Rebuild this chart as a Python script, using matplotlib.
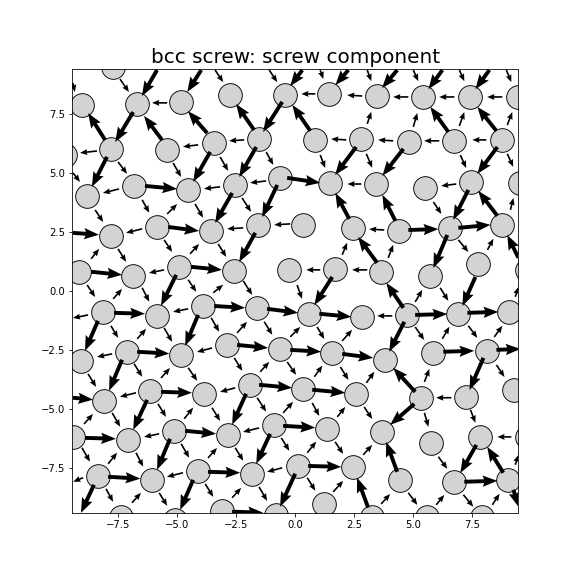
import matplotlib
matplotlib.use("Agg")
import matplotlib.pyplot as plt

atom_x = [-7.71,
 -9.03,-6.69,-4.83,-2.75,-0.42,1.44,3.47,5.42,7.42,9.45,
 -9.75,-7.80,-5.42,-3.43,-1.53,0.85,2.80,4.83,6.74,8.77,
 -8.81,-6.82,-4.53,-2.54,-0.64,1.48,3.43,5.51,7.46,9.53,
 -7.80,-5.85,-3.56,-1.57,0.34,2.46,4.41,6.57,8.77,
 -9.15,-6.86,-4.92,-2.58,-0.25,1.69,3.64,5.72,7.75,9.83,
 -8.14,-5.85,-3.90,-1.61,0.59,2.84,4.75,6.91,9.07,
 -9.07,-7.12,-4.83,-2.88,-0.64,1.57,3.81,5.85,8.14,
 -8.09,-6.14,-3.86,-1.91,0.34,2.58,5.34,7.25,9.28,
 -9.41,-7.08,-5.13,-2.84,-0.89,1.36,3.69,5.76,7.84,9.83,
 -8.35,-6.06,-4.11,-1.82,0.13,2.46,4.45,6.74,9.03,
 -7.37,-5.08,-3.09,-0.81,1.23,3.26,5.59,7.92]
atom_y = [9.49,
 7.88,7.92,8.01,8.31,8.31,8.35,8.26,8.22,8.22,8.22,
 5.76,6.02,5.97,6.27,6.44,6.40,6.44,6.31,6.36,6.40,
 4.03,4.45,4.28,4.49,4.79,4.58,4.53,4.36,4.62,4.58,
 2.33,2.71,2.54,2.80,2.80,2.67,2.54,2.67,2.80,
 0.81,0.64,1.02,0.85,0.89,0.93,0.81,0.64,1.14,0.89,
 -0.89,-1.06,-0.64,-0.72,-0.97,-1.10,-1.02,-0.97,-0.89,
 -2.97,-2.58,-2.71,-2.29,-2.46,-2.63,-2.92,-2.63,-2.54,
 -4.66,-4.24,-4.36,-3.98,-4.15,-4.36,-4.53,-4.49,-4.19,
 -6.19,-6.31,-5.93,-6.10,-5.68,-5.85,-5.97,-6.44,-6.19,-6.19,
 -7.84,-8.01,-7.63,-7.75,-7.42,-7.46,-8.01,-8.09,-8.01,
 -9.58,-9.70,-9.32,-9.49,-9.03,-9.58,-9.58,-9.58]

strong_x = [-5.85,-3.98,0.30,-6.86,-8.05,-5.64,-3.73,-1.74,-0.55,-7.97,-3.60,-1.65,-6.36,-2.67,-0.76,-0.34,-5.38,-9.41,-1.69,-8.64,-4.41,-5.04,
 2.25,4.32,6.23,8.22,0.64,6.48,8.52,2.58,4.58,8.56,7.33,8.56,2.29,4.24,4.79,6.91,6.44,3.47,7.63,4.58,9.45,1.57,
 -8.35,-7.67,-3.43,-1.19,-4.11,-7.33,-6.69,-2.46,-0.21,-9.41,-5.68,-6.27,-1.53,-2.08,-8.90,-4.66,-0.51,-5.30,-1.06,-7.92,-3.69,-8.52,-4.32,0.00,-2.67,
 1.02,5.08,7.29,4.62,1.99,6.27,8.52,7.97,0.72,5.08,5.04,4.32,0.55,3.09,7.67,8.81,7.16,9.24]
strong_y = [9.36,9.36,9.36,7.58,6.40,6.40,6.69,6.82,8.01,5.68,5.89,6.10,4.45,4.15,4.49,4.79,2.71,2.46,2.46,0.81,1.02,0.68,
 9.36,9.36,9.36,9.36,6.78,6.74,6.78,6.10,6.02,6.10,4.28,3.18,3.05,2.97,2.58,2.67,2.37,1.19,0.59,-0.72,1.40,0.59,
 -1.27,-0.93,-0.64,-0.76,-1.02,-2.92,-2.58,-2.29,-2.50,-4.53,-4.28,-4.62,-3.98,-4.36,-6.23,-5.93,-5.72,-6.27,-6.06,-7.88,-7.67,-8.22,-8.01,-7.75,-9.36,
 -0.97,-1.02,-0.93,-1.31,-2.67,-2.58,-2.50,-2.84,-4.19,-4.28,-4.79,-7.67,-7.42,-9.19,-6.53,-7.71,-8.09,-8.43]
strong_u = [-0.64,-0.59,-0.51,-0.76,-0.72,-0.76,-0.81,-0.76,-0.81,-0.64,-0.72,-0.72,1.36,-0.72,-0.64,1.40,1.31,1.10,-0.68,1.31,1.31,-0.64,
 -0.55,-0.64,-0.59,-0.59,-0.76,-0.76,-0.81,-0.89,-0.89,-0.85,-0.64,-0.81,-0.59,-0.55,1.27,1.36,-0.59,-0.81,-0.55,-0.72,-0.47,-0.76,
 -0.55,1.31,1.31,1.31,-0.55,-0.55,1.36,1.31,1.31,0.85,1.31,-0.59,1.40,-0.59,1.31,1.31,1.36,-0.55,-0.59,1.36,1.36,-0.55,-0.55,-0.64,1.31,
 1.36,1.36,1.31,-0.64,1.31,1.31,1.02,-0.59,1.40,-0.93,-1.02,-0.47,1.40,-0.47,-0.68,-0.68,1.40,0.21]
strong_v = [-1.10,-0.93,-0.68,-1.27,1.14,1.02,0.93,1.10,-1.27,-1.27,-1.27,-1.27,-0.13,-1.27,-1.36,-0.21,-0.17,-0.08,-1.23,-0.13,-0.13,-1.31,
 -0.64,-0.76,-0.81,-0.81,1.10,1.06,1.02,-1.19,-1.14,-1.14,-1.27,1.06,1.10,1.10,0.04,0.13,-1.40,1.10,-1.23,1.06,0.97,-1.19,
 -1.27,-0.04,-0.08,-0.17,-1.31,-1.31,-0.08,-0.13,-0.08,-0.08,-0.04,-1.27,-0.13,-1.31,-0.04,-0.13,-0.08,-1.31,-1.27,-0.08,-0.04,-1.19,-1.27,-1.40,-0.04,
 -0.13,0.04,0.04,-1.27,-0.17,0.04,0.04,-1.36,-0.13,1.02,-0.89,1.27,-0.04,1.27,-1.19,1.10,0.04,-0.72]

weak_x = [-7.42,-3.39,-1.10,-9.41,-5.42,-8.39,-4.11,-2.16,-7.50,-5.17,-3.18,-1.23,-9.41,-7.46,-3.18,-1.23,-6.48,-8.47,-4.24,-2.25,-5.42,-6.48,-2.20,-0.21,-5.55,-8.64,-7.50,-4.45,-3.26,-5.55,
 1.06,3.05,5.00,6.95,8.94,0.85,2.84,4.79,6.74,8.77,3.05,5.00,6.95,8.98,2.16,4.15,6.10,8.09,1.06,3.01,6.99,8.98,2.80,6.82,5.85,3.77,9.11,1.99,3.94,6.91,8.14,1.06,3.05,
 -8.77,-4.53,-7.71,-8.81,-6.48,-3.47,-4.53,-2.20,-7.80,-6.69,-5.55,-3.56,-2.46,-1.31,-0.21,-7.75,-3.52,-8.77,-6.82,-5.68,-4.53,-2.58,-1.48,-0.34,-6.74,-2.54,-8.94,-7.75,-5.81,-4.70,-3.52,-1.61,-0.51,-5.76,-1.53,-9.03,-7.92,-6.74,-4.83,-3.69,-2.54,-0.59,-8.98,-4.75,-0.55,-8.01,-6.91,-5.76,-3.81,-2.67,-1.53,
 0.08,5.08,6.14,4.11,9.32,0.93,1.99,5.08,6.23,7.33,8.43,0.81,1.91,3.01,5.47,8.52,0.72,1.78,2.92,5.47,6.61,7.42,9.15,0.51,1.69,2.88,6.06,9.32,0.51,1.61,3.64,4.79,5.97,7.12,8.35]
weak_y = [8.98,9.36,9.36,8.81,7.97,5.93,6.19,6.40,5.47,5.42,5.68,5.89,5.00,4.32,4.41,4.66,3.86,3.43,3.69,3.94,3.26,2.63,2.67,2.84,2.16,1.36,1.78,1.57,1.99,0.89,
 9.36,9.36,9.36,9.36,9.36,8.35,8.26,8.22,8.22,8.22,7.08,6.95,6.99,7.03,6.40,6.36,6.36,6.40,5.76,5.81,5.76,5.81,4.53,4.53,3.77,2.58,3.43,1.53,1.40,2.16,1.74,0.89,0.89,
 -1.02,-0.76,-0.34,0.25,0.13,-0.08,0.47,0.42,-1.48,-2.03,-1.57,-1.14,-1.78,-1.31,-1.95,-2.67,-2.42,-3.52,-3.09,-3.69,-3.26,-2.84,-3.43,-3.01,-4.32,-4.11,-5.64,-5.17,-4.79,-5.42,-4.96,-4.53,-5.17,-6.06,-5.81,-6.65,-7.33,-6.86,-6.48,-7.08,-6.65,-6.23,-7.92,-7.71,-7.50,-8.39,-8.98,-8.56,-8.18,-8.77,-8.31,
 0.25,-0.47,0.13,-1.06,-0.25,-1.53,-2.12,-1.53,-2.03,-1.48,-1.95,-3.64,-3.22,-3.90,-3.86,-3.14,-4.75,-5.34,-4.92,-5.17,-4.53,-5.04,-6.19,-6.86,-6.40,-6.95,-7.03,-7.37,-7.92,-8.52,-9.03,-8.56,-9.07,-8.64,-9.07]
weak_u = [0.38,0.34,0.34,0.08,-0.64,-0.72,-0.64,-0.64,0.38,0.34,0.34,0.30,0.30,-0.68,-0.68,-0.68,0.30,0.34,0.34,0.38,0.42,-0.68,-0.68,-0.68,0.34,0.34,0.34,0.38,0.34,-0.64,
 0.13,0.17,0.21,0.21,0.21,-0.59,-0.64,-0.64,-0.64,-0.64,0.17,0.17,0.21,0.21,-0.64,-0.64,-0.64,-0.59,0.21,0.25,0.25,0.25,-0.59,-0.64,0.34,-0.64,0.13,0.21,0.21,0.42,0.25,-0.59,-0.64,
 -0.64,-0.64,0.38,0.34,0.30,0.42,0.34,0.38,0.30,0.38,0.34,0.34,0.42,0.34,0.42,-0.64,-0.64,0.34,0.34,0.38,0.38,0.34,0.38,0.38,-0.68,-0.64,0.38,0.34,0.34,0.38,0.34,0.38,0.42,-0.64,-0.68,0.34,0.38,0.30,0.34,0.38,0.34,0.34,-0.42,-0.68,-0.64,0.30,0.38,0.34,0.34,0.38,0.34,
 0.21,0.30,0.34,-0.64,0.13,0.30,0.42,0.38,0.30,0.38,0.34,0.34,0.34,0.34,0.21,0.34,0.30,0.34,0.34,0.17,-0.64,0.21,-0.59,0.38,0.34,0.38,0.38,0.13,0.34,0.42,0.38,0.38,0.34,0.42,0.30]
weak_v = [-0.55,-0.51,-0.51,-0.38,0.00,-0.08,-0.08,-0.04,-0.51,-0.59,-0.59,-0.55,-0.38,-0.17,-0.08,-0.08,-0.55,-0.51,-0.59,-0.59,0.42,-0.17,-0.04,-0.04,-0.51,0.42,-0.55,0.42,-0.55,-0.13,
 -0.38,-0.47,-0.47,-0.47,-0.51,0.00,0.04,0.00,0.00,0.00,0.51,0.59,0.59,0.55,0.04,0.04,0.00,0.00,-0.55,-0.59,-0.55,-0.55,0.00,-0.08,-0.51,0.04,0.51,0.51,0.55,-0.51,0.47,0.00,0.00,
 -0.13,-0.13,0.42,-0.51,-0.59,0.34,-0.51,-0.59,-0.51,0.42,-0.59,-0.59,0.47,-0.55,0.42,-0.13,-0.17,-0.55,-0.55,0.42,-0.55,-0.55,0.42,-0.55,-0.17,-0.17,0.42,-0.59,-0.55,0.47,-0.55,-0.59,0.47,-0.13,-0.17,-0.59,0.47,-0.59,-0.59,0.42,-0.55,-0.55,-0.17,-0.17,-0.17,-0.55,0.42,-0.55,-0.55,0.42,-0.59,
 -0.59,0.51,-0.55,0.00,0.42,-0.51,0.47,-0.55,0.51,-0.51,0.47,0.47,-0.55,0.47,0.55,-0.51,-0.55,0.42,-0.51,-0.59,0.00,-0.55,0.00,0.47,-0.51,0.42,-0.51,0.42,-0.55,0.47,0.42,-0.51,0.42,-0.51,0.47]

title_text = "bcc screw: screw component"

fig, ax = plt.subplots(figsize=(8, 8), dpi=72)
ax.scatter(atom_x, atom_y, s=560, facecolor="lightgrey", edgecolor="black", linewidth=0.9, zorder=2)
ax.quiver(strong_x, strong_y, strong_u, strong_v, angles="xy", scale_units="xy", scale=1,
          units="xy", width=0.165, headwidth=2.9, headlength=3.8, headaxislength=3.4,
          color="black", zorder=3)
ax.quiver(weak_x, weak_y, weak_u, weak_v, angles="xy", scale_units="xy", scale=1,
          units="xy", width=0.07, headwidth=3.6, headlength=4.4, headaxislength=4.0,
          color="black", zorder=3)
ax.set_xlim(-9.45, 9.45)
ax.set_ylim(-9.4, 9.4)
ax.set_title(title_text, fontsize=20)
fig.savefig("out.png", dpi=72)
